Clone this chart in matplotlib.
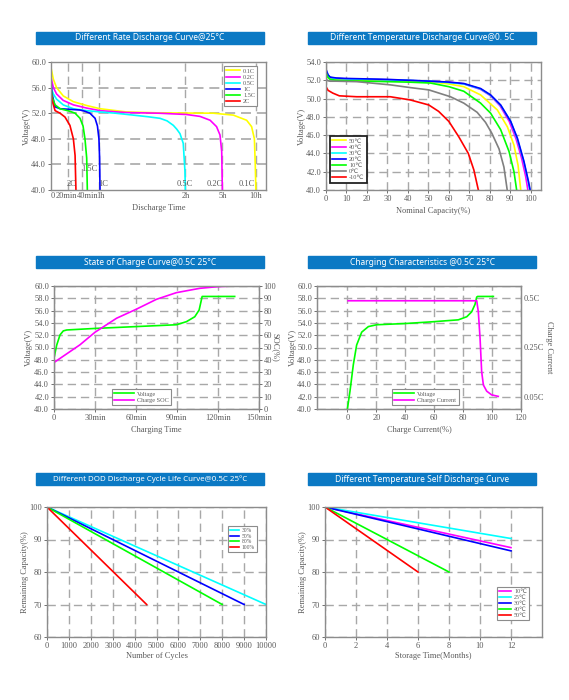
import matplotlib.pyplot as plt
from matplotlib.patches import Rectangle

plt.rcParams['font.family'] = ['Liberation Serif', 'DejaVu Sans']
plt.rcParams['font.size'] = 6

TXT = '#5a5a5a'
SPINE = '#8c8c8c'
GRID = '#a8a8a8'
BLUE_BAR = '#0b79c4'

# ---------------- data ----------------
# 1) rate discharge, x axis is not linear -> x given in axis units (0..100)
rate_grid = [8.1, 14.3, 22.5, 62.5, 79.7, 95.3]
rate_tick_pos = [0.6, 7.3, 16.9, 23.2, 62.5, 79.7, 95.3]
rate_tick_labels = ['0', '20min', '40min', '1h', '2h', '5h', '10h']
rate_names = ['0.1C', '0.2C', '0.5C', '1C', '1.5C', '2C']
rate_colors = ['#ffff00', '#ff00ff', '#00ffff', '#0000ff', '#00ff00', '#ff0000']
rate_x = [
    [0, 1.1, 2.6, 5.7, 10.4, 16.6, 22.8, 35, 50, 75.5, 84.8, 91, 93.3, 94.6, 95, 95.3],
    [0, 1.1, 2.6, 5.7, 10.4, 16.6, 22.8, 35, 50, 63, 69.3, 74, 77, 78.6, 79.4, 79.7],
    [0, 1.1, 2.6, 5.7, 10.4, 16.6, 22.8, 30, 38.3, 45, 50.7, 54, 56.9, 58.5, 60, 61.5, 62.3, 62.5],
    [0, 0.5, 1.9, 4.2, 8.8, 13.5, 15.8, 18.1, 20.5, 21.6, 22.3, 22.6, 22.8],
    [0, 0.5, 1.9, 4.2, 6.5, 8.8, 11.2, 13.5, 14.9, 15.8, 16.6, 16.9],
    [0, 0.5, 1.9, 4.2, 6.5, 8.8, 10.4, 11.2, 11.6],
]
rate_v = [
    [59.1, 57.3, 56.0, 54.7, 53.8, 53.2, 52.7, 52.2, 52.05, 52.0, 51.7, 50.9, 49.9, 48.0, 44.0, 40.0],
    [57.6, 56.0, 55.0, 54.0, 53.3, 52.8, 52.4, 52.1, 52.0, 51.8, 51.5, 50.9, 49.9, 48.6, 46.0, 40.0],
    [56.0, 55.0, 54.2, 53.3, 52.7, 52.4, 52.2, 52.0, 51.7, 51.45, 51.2, 50.8, 50.1, 49.5, 48.8, 47.3, 43.0, 40.0],
    [57.0, 55.0, 53.0, 52.7, 52.6, 52.5, 52.3, 52.0, 51.2, 50.0, 48.0, 45.0, 40.0],
    [56.0, 54.5, 53.3, 52.7, 52.5, 52.3, 52.0, 51.2, 50.0, 48.0, 45.0, 40.0],
    [55.5, 54.0, 52.4, 52.0, 51.4, 50.1, 48.0, 45.4, 40.0],
]
rate_note_text = ['2C', '1.5C', '1C', '0.5C', '0.2C', '0.1C']
rate_note_x = [9.6, 17.7, 24.3, 62.3, 76.0, 91.2]
rate_note_y = [40.9, 43.3, 40.9, 40.9, 40.9, 40.9]

# 2) temperature discharge
temp_names = ['50℃', '40℃', '30℃', '20℃', '10℃', '0℃', '-10℃']
temp_colors = ['#ffff00', '#ff00ff', '#00ffff', '#0000ff', '#00ff00', '#808080', '#ff0000']
temp_x = [
    [0, 1, 2, 5, 10, 20, 30, 40, 50, 60, 67.3, 75.5, 83.7, 88.6, 91.8, 93.8, 95.1],
    [0, 1, 2, 5, 10, 20, 30, 40, 51, 60, 67.3, 75.5, 80.4, 85, 89.5, 92.8, 95.5, 97.5, 98.6],
    [0, 1, 2, 5, 10, 20, 30, 40, 51, 60, 67.3, 75.5, 80.4, 85.3, 90.2, 93.4, 96.5, 98.7, 99.5],
    [0, 1, 2, 5, 10, 20, 30, 40, 51, 60, 67.3, 75.5, 80.4, 85.3, 90.2, 93.5, 96.7, 98.9, 99.7],
    [0, 1, 2, 5, 10, 20, 30, 40, 51, 60, 67.3, 75.5, 80.4, 85.3, 89.4, 91.8, 93.1],
    [0, 1, 2, 5, 15, 31.4, 41.2, 50.2, 60.8, 67.3, 73.8, 77.9, 81, 84.5, 86.9, 88.5],
    [0, 1, 3.3, 6.5, 15, 31.4, 41.2, 50.2, 55, 60, 64.9, 69.5, 72.2, 74.4],
]
temp_v = [
    [53.0, 52.4, 52.2, 52.1, 52.05, 52.0, 52.0, 51.95, 51.85, 51.6, 51.3, 50.4, 48.75, 46.9, 44.9, 42.7, 40.0],
    [53.0, 52.5, 52.3, 52.2, 52.15, 52.1, 52.05, 52.0, 51.9, 51.8, 51.6, 51.0, 50.3, 49.2, 47.5, 45.6, 43.5, 41.5, 40.0],
    [53.1, 52.55, 52.3, 52.2, 52.15, 52.1, 52.05, 52.0, 51.9, 51.75, 51.6, 51.05, 50.35, 49.25, 47.5, 45.6, 43.2, 41.0, 40.0],
    [53.2, 52.6, 52.35, 52.25, 52.2, 52.15, 52.1, 52.0, 51.9, 51.8, 51.65, 51.1, 50.4, 49.3, 47.5, 45.65, 43.1, 40.9, 40.0],
    [52.8, 52.3, 52.1, 52.0, 51.95, 51.9, 51.85, 51.8, 51.7, 51.3, 50.8, 49.5, 48.4, 46.6, 44.2, 42.0, 40.0],
    [52.1, 51.95, 51.9, 51.9, 51.85, 51.5, 51.2, 50.95, 50.2, 49.5, 48.5, 47.4, 46.2, 44.5, 42.5, 40.0],
    [51.3, 50.9, 50.6, 50.3, 50.2, 50.2, 49.85, 49.3, 48.6, 47.5, 45.8, 44.0, 42.2, 40.0],
]

# 3) state of charge
soc_time = [0, 19, 30, 45.8, 60, 75, 89.6, 106.6, 120, 132]
soc_pct = [37.8, 52.2, 62.4, 73.8, 81, 89.2, 94.6, 98.1, 99.5, 100]
chg_time = [0, 2, 4.4, 6.8, 9.3, 30, 60, 89.6, 96.9, 103, 106.2, 107.6, 108.4, 132.2]
chg_volt = [48.3, 50.4, 52.05, 52.7, 52.85, 53.1, 53.4, 53.7, 54.2, 55.0, 56.1, 57.5, 58.3, 58.3]
time_ticks = [0, 30, 60, 90, 120, 150]
time_labels = ['0', '30min', '60min', '90min', '120min', '150min']

# 4) charging characteristics
cc_x = [0, 1.8, 4.1, 6.4, 9.9, 14.5, 20.3, 40.3, 59.9, 76.7, 82.5, 85.9, 88.2, 89.4, 90, 100.9]
cc_volt = [40, 42.9, 47.2, 50.4, 52.5, 53.4, 53.7, 53.9, 54.2, 54.5, 55.0, 55.8, 57.0, 58.2, 58.3, 58.3]
cur_x = [0.5, 89.4, 90.5, 91.7, 92.8, 94, 96.3, 99.7, 104.3]
cur_level = [57.6, 57.6, 55.8, 51.5, 46.1, 43.9, 42.9, 42.3, 42.05]
cur_ticks = [58, 50, 42]
cur_labels = ['0.5C', '0.25C', '0.05C']

# 5) DOD cycle life
dod_names = ['30%', '50%', '80%', '100%']
dod_colors = ['#00ffff', '#0000ff', '#00ff00', '#ff0000']
dod_cycles = [[0, 10000], [0, 9000], [0, 8000], [0, 4550]]
dod_cap = [[100, 70], [100, 70], [100, 70], [100, 70]]

# 6) self discharge
sd_names = ['10℃', '25℃', '30℃', '40℃', '50℃']
sd_colors = ['#ff00ff', '#00ffff', '#0000ff', '#00ff00', '#ff0000']
sd_months = [[0, 12], [0, 12], [0, 12], [0, 8], [0, 6]]
sd_cap = [[100, 87.5], [100, 90.3], [100, 86.5], [100, 80], [100, 80]]

# ---------------- figure ----------------
fig = plt.figure(figsize=(5.69, 7.0), dpi=100)
W, H = 569.0, 700.0


def px_axes(x0, y0, x1, y1):
    return fig.add_axes([x0 / W, 1 - y1 / H, (x1 - x0) / W, (y1 - y0) / H])


def title_bar(x0, y0, x1, y1, text, fs=6.1):
    fig.patches.append(Rectangle((x0 / W, 1 - y1 / H), (x1 - x0) / W, (y1 - y0) / H,
                                 transform=fig.transFigure, color=BLUE_BAR, zorder=0))
    fig.text((x0 + x1) / 2 / W, 1 - (y0 + y1) / 2 / H, text, color='white', ha='center', va='center',
             fontsize=fs, fontweight='bold', family=['Noto Sans', 'DejaVu Sans'])


def style(ax):
    for s in ax.spines.values():
        s.set_color(SPINE)
        s.set_linewidth(1.0)
    ax.tick_params(colors=TXT, labelsize=6, length=2, width=0.6, pad=1.5)
    ax.xaxis.label.set_color(TXT)
    ax.yaxis.label.set_color(TXT)
    ax.grid(True, color=GRID, linestyle=(0, (6, 3.5)), linewidth=1.0)
    ax.set_axisbelow(True)


def legend(ax, x, y, fs=4.5, edge=SPINE, lw=0.8, hl=2.2):
    lg = ax.legend(loc='upper left', bbox_to_anchor=(x / W, 1 - y / H), bbox_transform=fig.transFigure,
                   fontsize=fs, fancybox=False, edgecolor=edge, framealpha=1, borderpad=0.35,
                   labelspacing=0.12, handlelength=hl, handletextpad=0.5, borderaxespad=0)
    lg.get_frame().set_linewidth(lw)
    for t in lg.get_texts():
        t.set_color(TXT)


# panel 1
title_bar(36, 32, 264, 44, 'Different Rate Discharge Curve@25°C')
ax1 = px_axes(51, 62, 266, 190)
style(ax1)
ax1.grid(False)
for i in range(len(rate_names)):
    ax1.plot(rate_x[i], rate_v[i], color=rate_colors[i], lw=1.2, label=rate_names[i])
for g in rate_grid:
    ax1.axvline(g, color=GRID, linestyle=(0, (6, 3.5)), linewidth=1.0, zorder=0)
for g in [44, 48, 52, 56]:
    ax1.axhline(g, color=GRID, linestyle=(0, (6, 3.5)), linewidth=1.2, zorder=0)
for t, x, y in zip(rate_note_text, rate_note_x, rate_note_y):
    ax1.text(x, y, t, ha='center', va='center', color=TXT, fontsize=6)
ax1.set_xlim(0, 100)
ax1.set_ylim(40, 60)
ax1.set_xticks(rate_tick_pos, rate_tick_labels)
ax1.tick_params(axis='x', length=0)
ax1.set_yticks([40, 44, 48, 52, 56, 60], ['40.0', '44.0', '48.0', '52.0', '56.0', '60.0'])
ax1.set_xlabel('Discharge Time', labelpad=3)
ax1.set_ylabel('Voltage(V)', labelpad=0)
legend(ax1, 224, 66)

# panel 2
title_bar(308, 32, 536, 44, 'Different Temperature Discharge Curve@0. 5C')
ax2 = px_axes(326, 62, 541, 190)
style(ax2)
for i in range(len(temp_names)):
    ax2.plot(temp_x[i], temp_v[i], color=temp_colors[i], lw=1.2, label=temp_names[i])
ax2.set_xlim(0, 105)
ax2.set_ylim(40, 54)
ax2.set_xticks(range(0, 101, 10))
ax2.set_yticks(range(40, 55, 2), ['%.1f' % v for v in range(40, 55, 2)])
ax2.set_xlabel('Nominal Capacity(%)', labelpad=3)
ax2.set_ylabel('Voltage(V)', labelpad=0)
legend(ax2, 330, 136, edge='#222222', lw=1.3)

# panel 3
title_bar(36, 256, 264, 268, 'State of Charge Curve@0.5C 25°C')
ax3 = px_axes(54, 286, 259, 409)
style(ax3)
ax3r = ax3.twinx()
ax3.plot(chg_time, chg_volt, color='#00ff00', lw=1.2, label='Voltage')
ax3r.plot(soc_time, soc_pct, color='#ff00ff', lw=1.2, label='Charge SOC')
ax3.set_xlim(0, 150)
ax3.set_ylim(40, 60)
ax3r.set_ylim(0, 100)
ax3.set_xticks(time_ticks, time_labels)
ax3.set_yticks(range(40, 61, 2), ['%.1f' % v for v in range(40, 61, 2)])
ax3r.set_yticks(range(0, 101, 10))
ax3r.tick_params(colors=TXT, labelsize=6, length=2, width=0.6, pad=1.2)
for s in ax3r.spines.values():
    s.set_color(SPINE)
ax3.set_xlabel('Charging Time', labelpad=3)
ax3.set_ylabel('Voltage(V)', labelpad=1)
ax3r.set_ylabel('SOC(%)', rotation=270, labelpad=2, color=TXT)
h1, l1 = ax3.get_legend_handles_labels()
h2, l2 = ax3r.get_legend_handles_labels()
lg3 = ax3r.legend(h1 + h2, l1 + l2, loc='upper left', bbox_to_anchor=(112 / W, 1 - 389 / H),
                  bbox_transform=fig.transFigure, fontsize=4.5, fancybox=False, edgecolor=SPINE,
                  framealpha=1, borderpad=0.35, labelspacing=0.12, handlelength=3.2,
                  handletextpad=0.5, borderaxespad=0)
lg3.get_frame().set_linewidth(0.8)
for t in lg3.get_texts():
    t.set_color(TXT)

# panel 4
title_bar(308, 256, 536, 268, 'Charging Characteristics @0.5C 25°C')
ax4 = px_axes(317, 286, 521, 409)
style(ax4)
ax4.plot(cc_x, cc_volt, color='#00ff00', lw=1.2, label='Voltage')
ax4.plot(cur_x, cur_level, color='#ff00ff', lw=1.2, label='Charge Current')
ax4.set_xlim(-21, 120)
ax4.set_ylim(40, 60)
ax4.set_xticks(range(0, 121, 20))
ax4.set_yticks(range(40, 61, 2), ['%.1f' % v for v in range(40, 61, 2)])
ax4.set_xlabel('Charge Current(%)', labelpad=3)
ax4.set_ylabel('Voltage(V)', labelpad=0)
ax4r = ax4.twinx()
ax4r.set_ylim(40, 60)
ax4r.set_yticks(cur_ticks, cur_labels)
ax4r.tick_params(colors=TXT, labelsize=6, length=0, pad=2)
for s in ax4r.spines.values():
    s.set_color(SPINE)
ax4r.set_ylabel('Charge Current', rotation=270, labelpad=6, color=TXT)
legend(ax4, 392, 389, hl=3.2)

# panel 5
title_bar(36, 473, 264, 485, 'Different DOD Discharge Cycle Life Curve@0.5C 25°C', fs=5.7)
ax5 = px_axes(47, 507, 266, 637)
style(ax5)
for i in range(len(dod_names)):
    ax5.plot(dod_cycles[i], dod_cap[i], color=dod_colors[i], lw=1.2, label=dod_names[i])
ax5.set_xlim(0, 10000)
ax5.set_ylim(60, 100)
ax5.set_xticks(range(0, 10001, 1000))
ax5.set_yticks(range(60, 101, 10))
ax5.set_xlabel('Number of Cycles', labelpad=1.5)
ax5.set_ylabel('Remaining Capacity(%)', labelpad=0)
legend(ax5, 228, 526, fs=4, hl=1.6)

# panel 6
title_bar(308, 473, 536, 485, 'Different Temperature Self Discharge Curve')
ax6 = px_axes(325, 507, 542, 637)
style(ax6)
for i in range(len(sd_names)):
    ax6.plot(sd_months[i], sd_cap[i], color=sd_colors[i], lw=1.2, label=sd_names[i])
ax6.set_xlim(0, 14)
ax6.set_ylim(60, 100)
ax6.set_xticks(range(0, 13, 2))
ax6.set_yticks(range(60, 101, 10))
ax6.set_xlabel('Storage Time(Months)', labelpad=1.5)
ax6.set_ylabel('Remaining Capacity(%)', labelpad=0)
legend(ax6, 497, 587, fs=4.3, hl=2.0)

fig.savefig('out.png', dpi=100)
